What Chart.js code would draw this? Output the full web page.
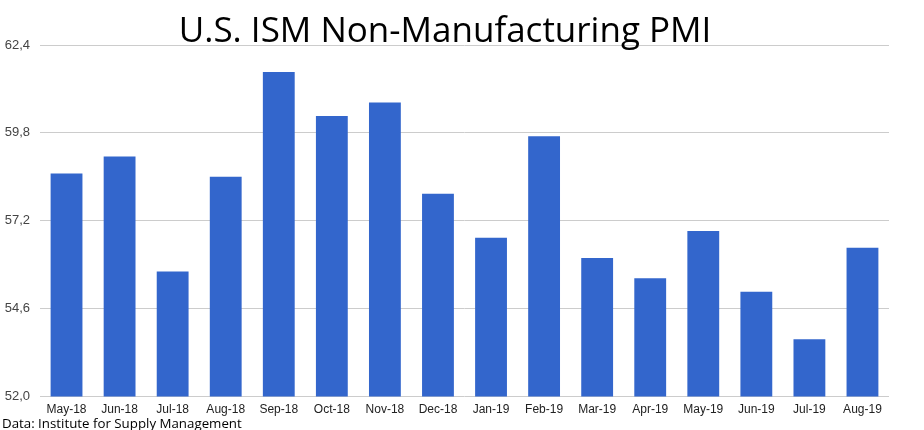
<!DOCTYPE html>
<html>
<head>
<meta charset="utf-8">
<script src="https://cdn.jsdelivr.net/npm/chart.js@4/dist/chart.umd.min.js"></script>
<style>
html,body{margin:0;padding:0;background:#fff;}
#wrap{width:924px;height:430px;position:relative;}
</style>
</head>
<body>
<div id="wrap"><canvas id="c" width="924" height="430"></canvas></div>
<script>
const categories = ["May-18","Jun-18","Jul-18","Aug-18","Sep-18","Oct-18","Nov-18","Dec-18","Jan-19","Feb-19","Mar-19","Apr-19","May-19","Jun-19","Jul-19","Aug-19"];
const pmiValues = [58.6,59.1,55.7,58.5,61.6,60.3,60.7,58.0,56.7,59.7,56.1,55.5,56.9,55.1,53.7,56.4];
const yTicks = [52.0,54.6,57.2,59.8,62.4];
const titleText = "U.S. ISM Non-Manufacturing PMI";
const sourceText = "Data: Institute for Supply Management";

const textPlugin = {
  id: 'textPlugin',
  afterDraw(chart) {
    const ctx = chart.ctx;
    ctx.save();
    ctx.fillStyle = '#000';
    ctx.font = '35px "Open Sans", sans-serif';
    ctx.textAlign = 'center';
    ctx.textBaseline = 'alphabetic';
    ctx.fillText(titleText, 445, 42);
    ctx.font = '13.3px "Open Sans", sans-serif';
    ctx.textAlign = 'left';
    ctx.fillStyle = '#000';
    ctx.fillText(sourceText, 2, 428);
    ctx.restore();
  }
};

new Chart(document.getElementById('c'), {
  type: 'bar',
  data: {
    labels: categories,
    datasets: [{
      label: 'PMI',
      data: pmiValues,
      backgroundColor: '#3366cc',
      borderWidth: 0,
      barPercentage: 0.6,
      categoryPercentage: 1.0
    }]
  },
  options: {
    responsive: false,
    animation: false,
    layout: { padding: { top: 45, right: 35, left: 0, bottom: 7 } },
    plugins: { legend: { display: false }, tooltip: { enabled: false }, title: { display: false } },
    scales: {
      x: {
        grid: { display: false, drawTicks: false },
        border: { display: false },
        ticks: { color: '#222', font: { family: '"Liberation Sans", Arial, sans-serif', size: 12 }, padding: 6, maxRotation: 0, autoSkip: false }
      },
      y: {
        min: 52.0,
        max: 62.4,
        afterBuildTicks(scale) { scale.ticks = yTicks.map(v => ({ value: v })); },
        afterFit(scale) { scale.width = 40; },
        grid: { color: '#cccccc', drawTicks: false, lineWidth: 1 },
        border: { display: false },
        ticks: {
          color: '#444',
          padding: 10,
          font: { family: '"Liberation Sans", Arial, sans-serif', size: 13 },
          callback: (v) => Number(v).toFixed(1).replace('.', ',')
        }
      }
    }
  },
  plugins: [textPlugin]
});
</script>
</body>
</html>
